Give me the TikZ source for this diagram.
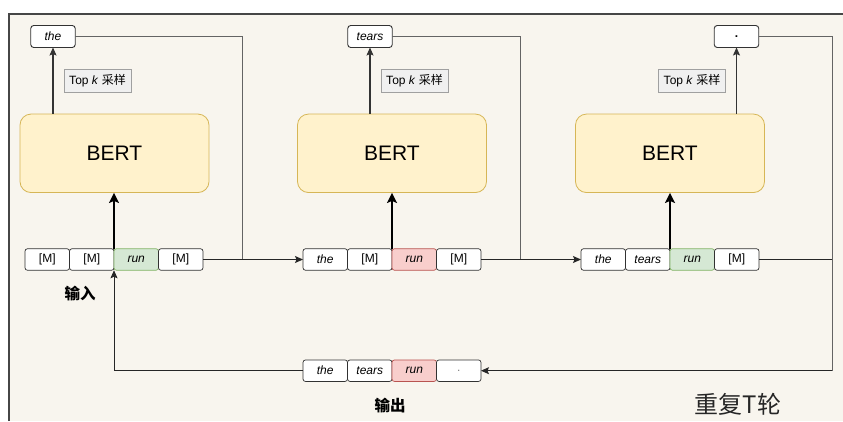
\documentclass[tikz,border=0pt]{standalone}
\usepackage{fontspec}
\setmainfont{Liberation Sans}
\newfontfamily\cjk{Noto Sans CJK SC}
\usetikzlibrary{arrows.meta,positioning}

\definecolor{paper}{RGB}{248,245,238}
\definecolor{framec}{RGB}{70,70,70}
\definecolor{bertfill}{RGB}{255,242,204}
\definecolor{bertline}{RGB}{214,182,86}
\definecolor{greenfill}{RGB}{213,232,212}
\definecolor{greenline}{RGB}{130,179,102}
\definecolor{redfill}{RGB}{248,206,204}
\definecolor{redline}{RGB}{184,84,80}
\definecolor{tokline}{RGB}{50,50,50}
\definecolor{linkc}{RGB}{100,100,100}
\definecolor{labfill}{RGB}{240,240,240}
\definecolor{labline}{RGB}{160,160,160}

\begin{document}
\begin{tikzpicture}[x=1pt,y=-1pt,
  tok/.style={draw=tokline, fill=white, rounded corners=2.5pt,
    minimum width=44.5pt, minimum height=21.5pt, inner sep=0pt, outer sep=0pt,
    line width=0.7pt, font=\fontsize{12}{14}\selectfont},
  hit/.style={tok, draw=greenline, fill=greenfill},
  miss/.style={tok, draw=redline, fill=redfill},
  pick/.style={tok, rounded corners=3pt, line width=0.9pt, minimum height=22pt},
  bert/.style={draw=bertline, fill=bertfill, rounded corners=11pt,
    minimum width=189pt, minimum height=78.5pt, line width=0.8pt,
    font=\fontsize{21}{24}\selectfont},
  topk/.style={draw=labline, fill=labfill, inner sep=0pt, minimum width=67pt,
    minimum height=22.5pt, line width=0.6pt, font=\fontsize{12}{14}\selectfont},
  caption/.style={font=\cjk\bfseries\fontsize{15.5}{18}\selectfont},
  tip/.style={-{Stealth[length=8pt,width=7pt,inset=1.5pt]}},
  thin/.style={draw=linkc, line width=0.8pt},
  flow/.style={draw=black!85, line width=0.9pt, tip},
  feed/.style={draw=black, line width=2.4pt, -{Stealth[length=10pt,width=10pt,inset=2pt]}},
  up/.style={draw=black!80, line width=1.1pt, tip}
]
\useasboundingbox (0,0) rectangle (843,421);
\fill[white] (0,0) rectangle (843,421);
\fill[paper] (9,14) rectangle (843,421);
\draw[framec, line width=1.1pt] (9,421) -- (9,14) -- (843,14);

% BERT blocks
\node[bert] (b1) at (114.5,153.3) {BERT};
\node[bert] (b2) at (392,153.3) {BERT};
\node[bert] (b3) at (670,153.3) {BERT};

% sampled tokens
\node[pick] (p1) at (53,36.5) {\itshape the};
\node[pick] (p2) at (370,36.5) {\itshape tears};
\node[pick] (p3) at (736.5,36.5) {\bfseries .};

% sampling labels
\node[topk] (k1) at (97.5,81) {Top \textit{k} {\cjk 采样}};
\node[topk] (k2) at (414.5,81) {Top \textit{k} {\cjk 采样}};
\node[topk] (k3) at (692,81) {Top \textit{k} {\cjk 采样}};

% input sequence of step 1
\node[tok, anchor=west] (a1) at (25,259.5) {[M]};
\node[tok, right=0pt of a1] (a2) {[M]};
\node[hit, right=0pt of a2] (a3) {\itshape run};
\node[tok, right=0pt of a3] (a4) {[M]};

% input sequence of step 2
\node[tok, anchor=west] (c1) at (303,259.5) {\itshape the};
\node[tok, right=0pt of c1] (c2) {[M]};
\node[miss, right=0pt of c2] (c3) {\itshape run};
\node[tok, right=0pt of c3] (c4) {[M]};

% input sequence of step 3
\node[tok, anchor=west] (d1) at (581,259.5) {\itshape the};
\node[tok, right=0pt of d1] (d2) {\itshape tears};
\node[hit, right=0pt of d2] (d3) {\itshape run};
\node[tok, right=0pt of d3] (d4) {[M]};

% output sequence
\node[tok, anchor=west] (o1) at (303,370.7) {\itshape the};
\node[tok, right=0pt of o1] (o2) {\itshape tears};
\node[miss, right=0pt of o2] (o3) {\itshape run};
\node[tok, right=0pt of o3] (o4) {\color{black!50}.};

% captions
\node[caption] (in) at (80,294) {输入};
\node[caption] (out) at (390,406) {输出};
\node[font=\cjk\fontsize{24}{28}\selectfont, text=black!85] (rep) at (738,404) {重复T轮};

% junctions on the connectors
\coordinate (j1) at (242,259.5);
\coordinate (j2) at (520,259.5);
\coordinate (j3) at (832,259.5);
\coordinate (j4) at (832,370.7);

% BERT feeds the sampler
\draw[up] (p1.south |- b1.north) -- (p1.south);
\draw[up] (p2.south |- b2.north) -- (p2.south);
\draw[up] (p3.south |- b3.north) -- (p3.south);

% masked sequence into BERT
\draw[feed] (a3.north west) -- (a3.north west |- b1.south);
\draw[feed] (c3.north west) -- (c3.north west |- b2.south);
\draw[feed] (d3.north west) -- (d3.north west |- b3.south);

% sampled token written back into the sequence
\draw[thin] (p1.east) -| (j1);
\draw[thin] (p2.east) -| (j2);
\draw[thin] (p3.east) -| (j4);

% step to step
\draw[flow] (a4.east) -- (c1.west);
\draw[flow] (c4.east) -- (d1.west);
\draw[draw=black!85, line width=0.9pt] (d4.east) -- (j3);
\draw[flow] (j4) -- (o4.east);

% output fed back as the next input
\draw[flow] (o1.west) -| (a3.south west);
\end{tikzpicture}
\end{document}
